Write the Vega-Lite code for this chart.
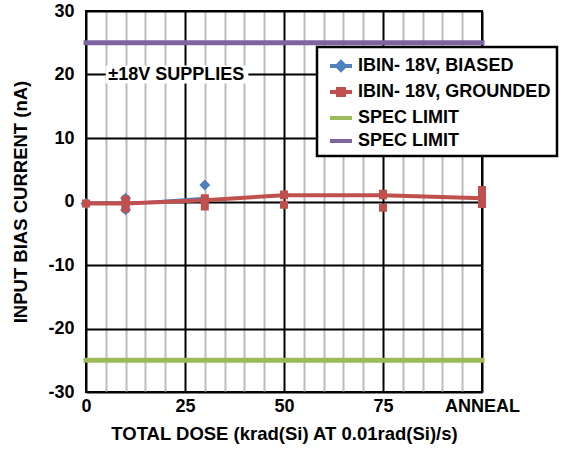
{
  "$schema": "https://vega.github.io/schema/vega-lite/v6.json",
  "width": 396,
  "height": 381,
  "autosize": "none",
  "padding": {"left": 86, "top": 11, "right": 81, "bottom": 57},
  "background": "white",
  "config": {
    "font": "Liberation Sans",
    "view": {"stroke": "black", "strokeWidth": 2},
    "axis": {"labelFont": "Liberation Sans", "labelFontWeight": "bold", "labelFontSize": 18, "labelColor": "black", "titleFont": "Liberation Sans", "titleFontWeight": "bold", "titleFontSize": 18.5, "titleColor": "black", "ticks": false, "domain": false, "labelOverlap": false, "labelBound": false, "labelFlush": false},
    "legend": {"strokeWidth": 2.5}
  },
  "datasets": {
    "pts": [
      {"series": "biased", "dose": 0, "value": -0.3},
      {"series": "biased", "dose": 10, "value": 0.5},
      {"series": "biased", "dose": 10, "value": -1.3},
      {"series": "biased", "dose": 30, "value": 2.6},
      {"series": "grounded", "dose": 0, "value": -0.3},
      {"series": "grounded", "dose": 10, "value": 0.3},
      {"series": "grounded", "dose": 10, "value": -0.3},
      {"series": "grounded", "dose": 10, "value": -1.1},
      {"series": "grounded", "dose": 30, "value": 0.5},
      {"series": "grounded", "dose": 30, "value": 0.2},
      {"series": "grounded", "dose": 30, "value": -0.8},
      {"series": "grounded", "dose": 50, "value": 1.1},
      {"series": "grounded", "dose": 50, "value": 1.0},
      {"series": "grounded", "dose": 50, "value": -0.5},
      {"series": "grounded", "dose": 75, "value": 1.2},
      {"series": "grounded", "dose": 75, "value": 1.0},
      {"series": "grounded", "dose": 75, "value": -1.0},
      {"series": "grounded", "dose": 100, "value": 1.8},
      {"series": "grounded", "dose": 100, "value": 1.0},
      {"series": "grounded", "dose": 100, "value": 0.4},
      {"series": "grounded", "dose": 100, "value": -0.4}
    ],
    "mean": [
      {"series": "biased", "dose": 0, "value": -0.3},
      {"series": "biased", "dose": 10, "value": -0.3},
      {"series": "biased", "dose": 30, "value": 0.6},
      {"series": "grounded", "dose": 0, "value": -0.3},
      {"series": "grounded", "dose": 10, "value": -0.3},
      {"series": "grounded", "dose": 30, "value": 0.2},
      {"series": "grounded", "dose": 50, "value": 1.0},
      {"series": "grounded", "dose": 75, "value": 1.0},
      {"series": "grounded", "dose": 100, "value": 0.5}
    ],
    "spec": [
      {"series": "specLow", "dose": 0, "value": -25},
      {"series": "specLow", "dose": 100, "value": -25},
      {"series": "specHigh", "dose": 0, "value": 25},
      {"series": "specHigh", "dose": 100, "value": 25}
    ],
    "note": [
      {"dose": 22.8, "value": 20, "label": "±18V SUPPLIES", "x1": 5, "x2": 41, "y1": 18.6, "y2": 21.4}
    ]
  },
  "encoding": {
    "x": {"field": "dose", "type": "quantitative", "scale": {"domain": [0, 100], "nice": false},
      "axis": {"values": [0,5,10,15,20,25,30,35,40,45,50,55,60,65,70,75,80,85,90,95,100],
        "labelExpr": "datum.value % 25 === 0 ? (datum.value === 100 ? 'ANNEAL' : datum.label) : ''",
        "gridColor": {"condition": {"test": "datum.value % 25 === 0", "value": "black"}, "value": "#bbbbbb"},
        "gridWidth": 2, "labelPadding": 5, "title": "TOTAL DOSE (krad(Si) AT 0.01rad(Si)/s)", "titlePadding": 9}},
    "y": {"field": "value", "type": "quantitative", "scale": {"domain": [-30, 30], "nice": false},
      "axis": {"values": [-30,-20,-10,0,10,20,30], "labelExpr": "datum.value < 0 ? '-' + abs(datum.value) : datum.label",
        "gridColor": "black", "gridWidth": 2, "labelPadding": 12, "title": "INPUT BIAS CURRENT (nA)", "titlePadding": 17}}
  },
  "layer": [
    {
      "data": {"name": "note"},
      "mark": {"type": "rect", "fill": "white"},
      "encoding": {
        "x": {"field": "x1", "type": "quantitative"},
        "x2": {"field": "x2"},
        "y": {"field": "y1", "type": "quantitative"},
        "y2": {"field": "y2"}
      }
    },
    {
      "data": {"name": "note"},
      "mark": {"type": "text", "fontWeight": "bold", "fontSize": 18, "color": "black"},
      "encoding": {
        "text": {"field": "label"}
      }
    },
    {
      "data": {"name": "spec"},
      "mark": {"type": "line", "strokeWidth": 5, "strokeCap": "square"},
      "encoding": {
        "color": {"field": "series", "type": "nominal"},
        "detail": {"field": "series"}
      }
    },
    {
      "data": {"name": "mean"},
      "transform": [{"filter": "datum.series === 'biased'"}],
      "mark": {"type": "line", "strokeWidth": 2},
      "encoding": {
        "color": {"field": "series", "type": "nominal"}
      }
    },
    {
      "data": {"name": "pts"},
      "transform": [{"filter": "datum.series === 'biased'"}],
      "mark": {"type": "point", "filled": true, "opacity": 1, "size": 990},
      "encoding": {
        "color": {"field": "series", "type": "nominal"},
        "shape": {"field": "series", "type": "nominal"}
      }
    },
    {
      "data": {"name": "mean"},
      "transform": [{"filter": "datum.series === 'grounded'"}],
      "mark": {"type": "line", "strokeWidth": 4},
      "encoding": {
        "color": {"field": "series", "type": "nominal"}
      }
    },
    {
      "data": {"name": "pts"},
      "transform": [{"filter": "datum.series === 'grounded'"}],
      "mark": {"type": "point", "filled": true, "opacity": 1, "size": 820},
      "encoding": {
        "color": {
          "field": "series", "type": "nominal",
          "scale": {"domain": ["biased", "grounded", "specLow", "specHigh"], "range": ["#4F81BD", "#C0504D", "#9BBB59", "#8064A2"]},
          "legend": {
            "orient": "none", "legendX": 231, "legendY": 36, "title": null,
            "fillColor": "white", "strokeColor": "black", "padding": 6,
            "labelFont": "Liberation Sans", "labelFontWeight": "bold", "labelFontSize": 18, "labelColor": "black", "labelLimit": 400,
            "labelExpr": "datum.value === 'biased' ? 'IBIN- 18V, BIASED' : datum.value === 'grounded' ? 'IBIN- 18V, GROUNDED' : 'SPEC LIMIT'",
            "symbolSize": 484, "symbolStrokeWidth": 4, "rowPadding": 1, "labelOffset": 4, "symbolOffset": 5
          }
        },
        "shape": {
          "field": "series", "type": "nominal",
          "scale": {"domain": ["biased", "grounded", "specLow", "specHigh"], "range": ["M-1,0L1,0M0,-0.35L0.35,0L0,0.35L-0.35,0Z", "M-1,0L1,0M-0.28,-0.28L0.28,-0.28L0.28,0.28L-0.28,0.28Z", "stroke", "stroke"]}
        }
      }
    }
  ]
}
